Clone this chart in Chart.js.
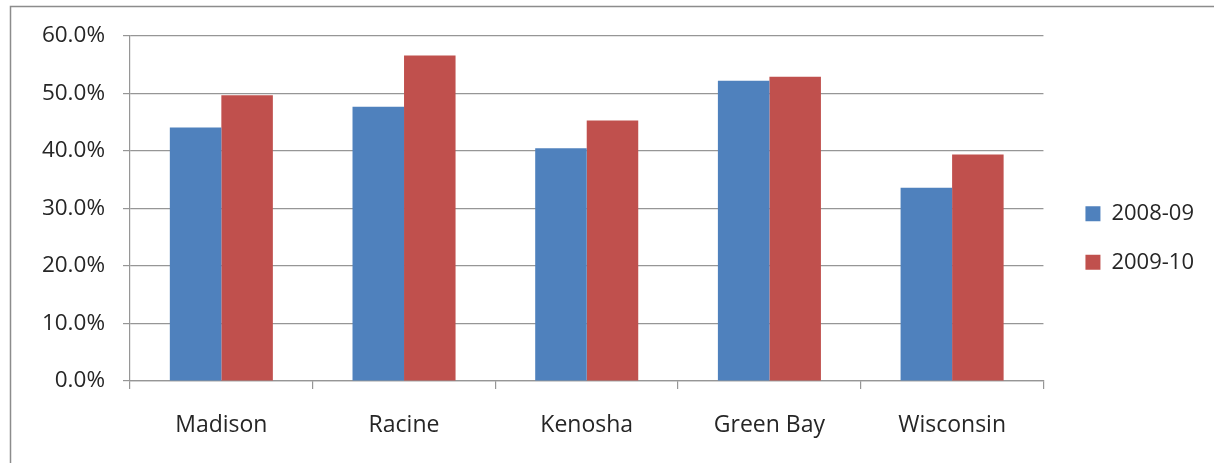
<!DOCTYPE html>
<html>
<head>
<meta charset="utf-8">
<script src="https://cdn.jsdelivr.net/npm/chart.js@4"></script>
<style>
  html, body { margin: 0; padding: 0; background: #ffffff; }
  #wrap { position: relative; width: 1214px; height: 463px; }
</style>
</head>
<body>
<div id="wrap"><canvas id="c" width="1214" height="463"></canvas></div>
<script>
const categories = ['Madison', 'Racine', 'Kenosha', 'Green Bay', 'Wisconsin'];
const seriesNames = ['2008-09', '2009-10'];
const values2008 = [44.1, 47.7, 40.5, 52.2, 33.6];
const values2009 = [49.7, 56.6, 45.3, 52.9, 39.4];
const yTicks = [0, 10, 20, 30, 40, 50, 60];

const GRID = '#969696';
const TEXT = '#262626';
const FONT = '"Open Sans", Lato, sans-serif';

const frame = {
  id: 'frame',
  beforeDraw(chart) {
    const ctx = chart.ctx;
    ctx.save();
    ctx.fillStyle = '#ffffff';
    ctx.fillRect(0, 0, chart.width, chart.height);
    ctx.strokeStyle = '#8c8c8c';
    ctx.lineWidth = 1.5;
    ctx.beginPath();
    ctx.moveTo(10.5, chart.height);
    ctx.lineTo(10.5, 6.5);
    ctx.lineTo(chart.width, 6.5);
    ctx.stroke();
    ctx.restore();
  }
};

new Chart(document.getElementById('c'), {
  type: 'bar',
  data: {
    labels: categories,
    datasets: [
      { label: seriesNames[0], data: values2008, backgroundColor: '#4F81BD', yAxisID: 'y' },
      { label: seriesNames[1], data: values2009, backgroundColor: '#C0504D', yAxisID: 'y' }
    ]
  },
  options: {
    responsive: false,
    animation: false,
    devicePixelRatio: 1,
    categoryPercentage: 0.564,
    barPercentage: 1.0,
    layout: { padding: { top: 13, bottom: 0, left: 0, right: 10 } },
    plugins: {
      tooltip: { enabled: false },
      legend: {
        position: 'right',
        align: 'center',
        labels: {
          boxWidth: 15,
          boxHeight: 15,
          padding: 26.5,
          color: TEXT,
          font: { family: FONT, size: 22 }
        }
      }
    },
    scales: {
      x: {
        grid: { display: true, drawOnChartArea: false, drawTicks: true, tickLength: 8, color: GRID, lineWidth: 1.2 },
        border: { display: true, color: GRID, width: 1.2 },
        ticks: { color: TEXT, font: { family: FONT, size: 23 }, padding: 23, maxRotation: 0 },
        afterFit(s) { s.height = 82; }
      },
      y: {
        min: yTicks[0],
        max: yTicks[yTicks.length - 1],
        afterBuildTicks(s) { s.ticks = yTicks.map(v => ({ value: v })); },
        grid: { color: GRID, lineWidth: 1.2, tickLength: 7, drawTicks: true },
        border: { display: true, color: GRID, width: 1.2 },
        ticks: {
          color: TEXT,
          font: { family: FONT, size: 22.5 },
          padding: 18,
          callback: v => Number(v).toFixed(1) + '%'
        },
        afterFit(s) { s.width = 130; s.paddingTop = 36; }
      },
      gap: {
        position: 'right',
        display: true,
        grid: { display: false },
        border: { display: false },
        ticks: { display: false },
        afterFit(s) { s.width = 15.5; }
      }
    }
  },
  plugins: [frame]
});
</script>
</body>
</html>
